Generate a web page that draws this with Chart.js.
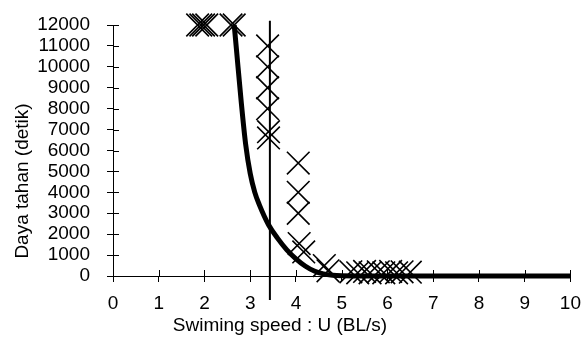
<!DOCTYPE html>
<html>
<head>
<meta charset="utf-8">
<script src="https://cdn.jsdelivr.net/npm/chart.js@4.4.1/dist/chart.umd.min.js"></script>
<style>
  html, body { margin: 0; padding: 0; background: #fff; }
  #wrap { width: 588px; height: 342px; }
</style>
</head>
<body>
<div id="wrap"><canvas id="chart"></canvas></div>
<script>
// ---- data ----
const xTicks = [0, 1, 2, 3, 4, 5, 6, 7, 8, 9, 10];
const yTicks = [0, 1000, 2000, 3000, 4000, 5000, 6000, 7000, 8000, 9000, 10000, 11000, 12000];

// observed points (swimming speed BL/s, endurance s)
const obsSpeed = [1.85, 1.92, 1.98, 2.05, 2.58, 2.65,
                  3.38, 3.38, 3.38, 3.38, 3.40, 3.40,
                  4.05, 4.05, 4.05, 4.07, 4.17,
                  4.62, 4.70, 5.20, 5.35, 5.50, 5.62, 5.80, 5.92, 6.07, 6.20, 6.32, 6.50];
const obsTime  = [12000, 12000, 12000, 12000, 12000, 12000,
                  11000, 10000, 9000, 8000, 6900, 6600,
                  5400, 4000, 3000, 1550, 1150,
                  500, 250, 200, 150, 220, 150, 200, 150, 220, 150, 200, 180];

// fitted curve
const fitSpeed = [2.65, 2.7, 2.8, 2.9, 3.0, 3.1, 3.2, 3.4, 3.6, 3.8, 4.0, 4.2, 4.4, 4.6, 4.8, 5.0, 5.5, 6, 7, 8, 9, 10];
const fitTime  = [12000, 10800, 8400, 6300, 4900, 4000, 3400, 2450, 1800, 1250, 820, 480, 240, 100, 35, 12, 4, 0, 0, 0, 0, 0];

// critical speed marker
const critSpeed = 3.43;

const FONT = 'Liberation Sans, Arial, sans-serif';

const toXY = (xs, ys) => xs.map((x, i) => ({ x: x, y: ys[i] }));

// inner halves of the crossing tick marks, critical line and axis titles
const extrasPlugin = {
    id: 'extras',
    afterDatasetsDraw(chart) {
        const ctx = chart.ctx;
        const xs = chart.scales.x;
        const ys = chart.scales.y;
        const area = chart.chartArea;
        ctx.save();
        ctx.strokeStyle = '#000';
        ctx.lineWidth = 1;
        ctx.beginPath();
        xTicks.forEach(v => {
            const px = Math.round(xs.getPixelForValue(v)) + 0.5;
            ctx.moveTo(px, area.bottom);
            ctx.lineTo(px, area.bottom - 6);
        });
        yTicks.forEach(v => {
            const py = Math.round(ys.getPixelForValue(v)) + 0.5;
            ctx.moveTo(area.left, py);
            ctx.lineTo(area.left + 6, py);
        });
        ctx.stroke();

        // vertical line at critical speed
        const cx = xs.getPixelForValue(critSpeed);
        ctx.lineWidth = 2;
        ctx.beginPath();
        ctx.moveTo(cx, ys.getPixelForValue(12200));
        ctx.lineTo(cx, area.bottom + 24);
        ctx.stroke();

        // axis titles
        ctx.fillStyle = '#000';
        ctx.font = '19px ' + FONT;
        ctx.textAlign = 'center';
        ctx.textBaseline = 'middle';
        ctx.fillText('Swiming speed : U (BL/s)', 280, 326);
        ctx.translate(23, 181);
        ctx.rotate(-Math.PI / 2);
        ctx.fillText('Daya tahan (detik)', 0, 0);
        ctx.restore();
    }
};

new Chart(document.getElementById('chart'), {
    type: 'scatter',
    data: {
        datasets: [{
            label: 'Observasi',
            data: toXY(obsSpeed, obsTime),
            pointStyle: 'crossRot',
            pointRadius: 16,
            pointHoverRadius: 16,
            borderColor: '#000',
            backgroundColor: '#000',
            pointBorderWidth: 1.6,
            borderWidth: 1.6,
            showLine: false,
            clip: false,
            order: 2
        }, {
            label: 'Kurva',
            data: toXY(fitSpeed, fitTime),
            showLine: true,
            pointRadius: 0,
            borderColor: '#000',
            borderWidth: 5,
            cubicInterpolationMode: 'monotone',
            clip: false,
            order: 1
        }]
    },
    options: {
        responsive: true,
        maintainAspectRatio: false,
        animation: false,
        events: [],
        layout: {
            padding: { top: 25, right: 17, left: 0, bottom: 0 }
        },
        plugins: {
            legend: { display: false },
            tooltip: { enabled: false }
        },
        scales: {
            x: {
                type: 'linear',
                min: 0,
                max: 10,
                afterBuildTicks: axis => { axis.ticks = xTicks.map(v => ({ value: v })); },
                afterFit: axis => { axis.height = 66; axis.paddingRight = 0; axis.paddingLeft = 0; },
                border: { display: true, color: '#000', width: 1 },
                grid: { drawOnChartArea: false, drawTicks: true, tickLength: 6, color: '#000' },
                ticks: { color: '#000', font: { family: FONT, size: 19 }, padding: 10, maxRotation: 0,
                         callback: v => String(v) }
            },
            y: {
                type: 'linear',
                min: 0,
                max: 12000,
                afterBuildTicks: axis => { axis.ticks = yTicks.map(v => ({ value: v })); },
                afterFit: axis => { axis.width = 113; axis.paddingTop = 0; axis.paddingBottom = 0; },
                border: { display: true, color: '#000', width: 1 },
                grid: { drawOnChartArea: false, drawTicks: true, tickLength: 6, color: '#000' },
                ticks: { color: '#000', font: { family: FONT, size: 19, lineHeight: 1 }, padding: 17, autoSkip: false,
                         callback: v => String(v) }
            }
        }
    },
    plugins: [extrasPlugin]
});
</script>
</body>
</html>
